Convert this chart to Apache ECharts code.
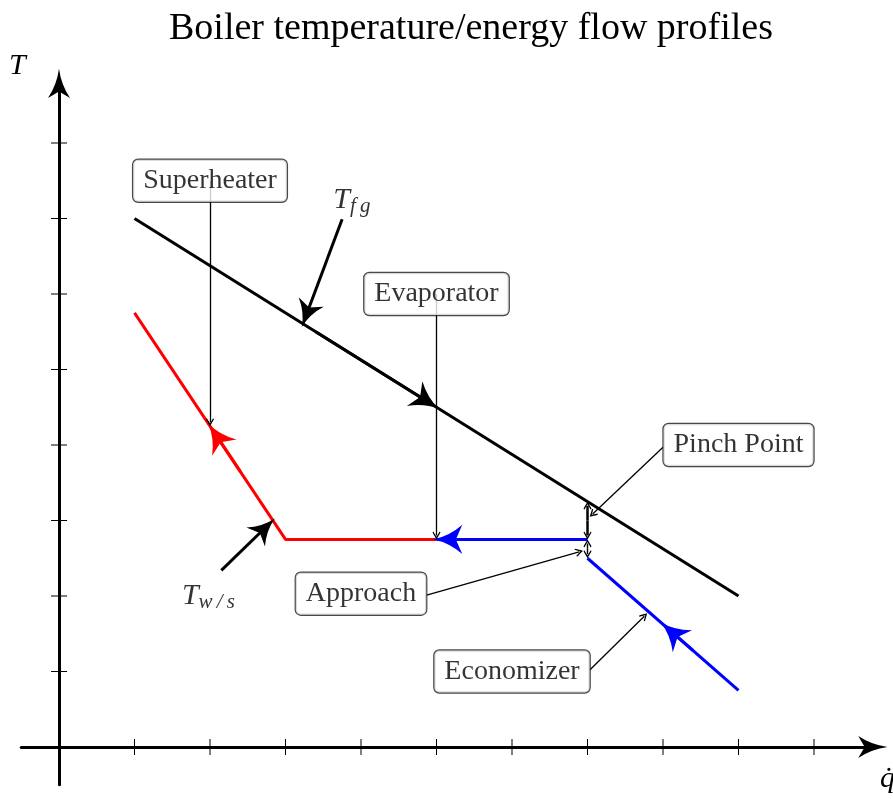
<!DOCTYPE html>
<html>
<head>
<meta charset="utf-8">
<script src="https://cdn.jsdelivr.net/npm/echarts@6/dist/echarts.min.js"></script>
<style>
  html, body { margin: 0; padding: 0; background: #fff; }
  #chart { width: 893px; height: 799px; }
</style>
</head>
<body>
<div id="chart"></div>
<script>
// ---- data (heat flow q on x, temperature T on y, in tick units) ----
const xTicks = [1, 2, 3, 4, 5, 6, 7, 8, 9, 10];
const yTicks = [1, 2, 3, 4, 5, 6, 7, 8];

const flueGasQ = [1, 9];
const flueGasT = [7, 2];
const steamQ = [1, 3, 5];
const steamT = [5.75, 2.75, 2.75];
const evapQ = [5, 7];
const evapT = [2.75, 2.75];
const econQ = [7, 9];
const econT = [2.5, 0.75];

const boxNames = ['Superheater', 'Evaporator', 'Pinch Point', 'Approach', 'Economizer'];
const boxQ = [2, 5, 9, 4, 6];
const boxT = [7.5, 6.0, 4.0, 2.03, 1.0];

// thin pointer arrows
const pointerFrom = [[2, 7.5], [5, 6.0], [8.0, 3.97], [4.87, 2.01], [7.03, 1.02]];
const pointerTo = [[2, 4.25], [5, 2.75], [7.03, 3.05], [6.94, 2.6], [7.79, 1.77]];

// thick label arrows (T_fg, T_w/s)
const labelNames = ['fg', 'w/s'];
const labelQ = [3.88, 1.98];
const labelT = [7.25, 2.0];
const labelArrowFrom = [[3.75, 6.99], [2.15, 2.34]];
const labelArrowTo = [[3.23, 5.6], [2.83, 3.0]];

// double arrows (pinch point, approach)
const dblQ = [7, 7];
const dblTop = [3.25, 2.75];
const dblBottom = [2.75, 2.5];
const dblWidth = [2.5, 1.4];

const zip = (a, b) => a.map((v, i) => [v, b[i]]);

// stealth arrow, aspect 0.75 (width:length)
const stealth = 'path://M37.5,0 Q45,55 75,100 L37.5,78 L0,100 Q30,55 37.5,0 Z';
const chevron = 'path://M50,0 L100,86 L90,100 L50,34 L10,100 L0,86 Z';
const BIG = [22, 29.3];
const MID = [20, 26.7];
const SMALL = [8, 8];

const X0 = 59, Y0 = 747, U = 75.5;
const xMin = -0.5, xMax = 10.78, yMin = -0.5, yMax = 8.79;

// a line segment whose end-symbol tip lands on `tip` (symbol is centred on segment end)
function tipSeg(from, tip, backPx) {
  const dx = tip[0] - from[0], dy = tip[1] - from[1];
  const L = Math.hypot(dx, dy);
  const back = backPx / U;
  return [from, [tip[0] - dx / L * back, tip[1] - dy / L * back]];
}
// flow arrow with tip at fraction `pos` along segment p0 -> p1
function flowArrow(p0, p1, pos, color) {
  const tip = [p0[0] + pos * (p1[0] - p0[0]), p0[1] + pos * (p1[1] - p0[1])];
  const st = [p0[0] + (pos - 0.2) * (p1[0] - p0[0]), p0[1] + (pos - 0.2) * (p1[1] - p0[1])];
  return { coords: tipSeg(st, tip, BIG[1] / 2 - 3.5), lineStyle: { color: color } };
}
const steam = zip(steamQ, steamT);
const flue = zip(flueGasQ, flueGasT);
const evap = zip(evapQ, evapT);
const econ = zip(econQ, econT);

const chart = echarts.init(document.getElementById('chart'));
const serif = 'Liberation Serif';

const option = {
  backgroundColor: '#fff',
  animation: false,
  title: {
    text: 'Boiler temperature/energy flow profiles',
    left: 164, top: 5,
    textStyle: { fontFamily: serif, fontSize: 38, fontWeight: 'normal', color: '#000' }
  },
  grid: {
    left: X0 + xMin * U, top: Y0 - yMax * U,
    width: (xMax - xMin) * U, height: (yMax - yMin) * U,
    outerBoundsMode: 'none', containLabel: false
  },
  xAxis: {
    type: 'value', min: xMin, max: xMax,
    axisLine: { onZero: true, lineStyle: { color: '#000', width: 3 }, symbol: ['none', stealth], symbolSize: BIG },
    axisTick: { show: false }, axisLabel: { show: false }, splitLine: { show: false }
  },
  yAxis: {
    type: 'value', min: yMin, max: yMax,
    axisLine: { onZero: true, lineStyle: { color: '#000', width: 3 }, symbol: ['none', stealth], symbolSize: BIG },
    axisTick: { show: false }, axisLabel: { show: false }, splitLine: { show: false }
  },
  graphic: [
    { type: 'text', left: 9, top: 51, style: { text: 'T', font: 'italic 30px "Liberation Serif"', fill: '#000' } },
    { type: 'text', left: 880, top: 764, style: { text: 'q\u0307', font: 'italic 30px "Liberation Serif"', fill: '#000' } }
  ],
  series: [
    {
      name: 'ticksX', type: 'custom', silent: true, z: 3,
      data: xTicks.map(v => [v, 0]),
      renderItem: (params, api) => {
        const p = api.coord([api.value(0), api.value(1)]);
        return { type: 'line', shape: { x1: p[0], y1: p[1] - 8, x2: p[0], y2: p[1] + 8 }, style: { stroke: '#000', lineWidth: 1 } };
      }
    },
    {
      name: 'ticksY', type: 'custom', silent: true, z: 3,
      data: yTicks.map(v => [0, v]),
      renderItem: (params, api) => {
        const p = api.coord([api.value(0), api.value(1)]);
        return { type: 'line', shape: { x1: p[0] - 8, y1: p[1], x2: p[0] + 8, y2: p[1] }, style: { stroke: '#000', lineWidth: 1 } };
      }
    },
    { name: 'Flue gas', type: 'line', data: flue, symbol: 'none', lineStyle: { color: '#000', width: 3 }, z: 4 },
    { name: 'Steam', type: 'line', data: steam, symbol: 'none', lineStyle: { color: '#ff0000', width: 3 }, z: 4 },
    { name: 'Evaporation', type: 'line', data: evap, symbol: 'none', lineStyle: { color: '#0000ff', width: 3 }, z: 4 },
    { name: 'Economizer', type: 'line', data: econ, symbol: 'none', lineStyle: { color: '#0000ff', width: 3 }, z: 4 },
    // flow arrows
    {
      type: 'lines', coordinateSystem: 'cartesian2d', z: 5, silent: true,
      symbol: ['none', stealth], symbolSize: BIG,
      lineStyle: { width: 3, opacity: 1 },
      data: [
        flowArrow(steam[1], steam[0], 0.5, '#ff0000'),
        flowArrow(flue[0], flue[1], 0.5, '#000'),
        flowArrow(evap[1], evap[0], 1.0, '#0000ff'),
        flowArrow(econ[1], econ[0], 0.5, '#0000ff')
      ]
    },
    // thick label arrows
    {
      type: 'lines', coordinateSystem: 'cartesian2d', z: 5, silent: true,
      symbol: ['none', stealth], symbolSize: MID,
      lineStyle: { width: 3, color: '#000', opacity: 1 },
      data: labelArrowFrom.map((f, i) => ({ coords: tipSeg(f, labelArrowTo[i], MID[1] / 2 - 3) }))
    },
    // thin pointer arrows
    {
      type: 'lines', coordinateSystem: 'cartesian2d', z: 6, silent: true,
      symbol: ['none', chevron], symbolSize: SMALL,
      lineStyle: { width: 1.3, color: '#000', opacity: 1 },
      data: pointerFrom.map((f, i) => ({ coords: tipSeg(f, pointerTo[i], SMALL[1] / 2) }))
    },
    // double arrows
    {
      type: 'lines', coordinateSystem: 'cartesian2d', z: 6, silent: true,
      symbol: ['none', chevron], symbolSize: SMALL,
      lineStyle: { color: '#000', opacity: 1 },
      data: dblQ.flatMap((q, i) => {
        const mid = (dblTop[i] + dblBottom[i]) / 2;
        return [
          { coords: tipSeg([q, mid], [q, dblTop[i]], SMALL[1] / 2), lineStyle: { width: dblWidth[i] } },
          { coords: tipSeg([q, mid], [q, dblBottom[i]], SMALL[1] / 2), lineStyle: { width: dblWidth[i] } }
        ];
      })
    },
    // boxed labels
    {
      type: 'scatter', z: 10, symbolSize: 0, silent: true,
      data: boxNames.map((n, i) => ({ name: n, value: [boxQ[i], boxT[i]] })),
      label: {
        show: true, position: 'inside', formatter: p => p.name,
        fontFamily: serif, fontSize: 28, lineHeight: 28, color: '#000',
        backgroundColor: '#fff', borderColor: '#1a1a1a', borderWidth: 1.2, borderRadius: 5,
        padding: [7, 10, 7, 10]
      }
    },
    // math labels
    {
      type: 'scatter', z: 10, symbolSize: 0, silent: true,
      data: labelNames.map((n, i) => ({ name: n, value: [labelQ[i], labelT[i]] })),
      label: {
        show: true, position: 'inside',
        formatter: p => '{t|T}{s|' + p.name.split('').join('\u2009') + '}',
        rich: {
          t: { fontFamily: serif, fontStyle: 'italic', fontSize: 30, lineHeight: 34, color: '#000' },
          s: { fontFamily: serif, fontStyle: 'italic', fontSize: 21, lineHeight: 14, verticalAlign: 'bottom', color: '#000' }
        }
      }
    }
  ]
};
chart.setOption(option);
</script>
</body>
</html>
